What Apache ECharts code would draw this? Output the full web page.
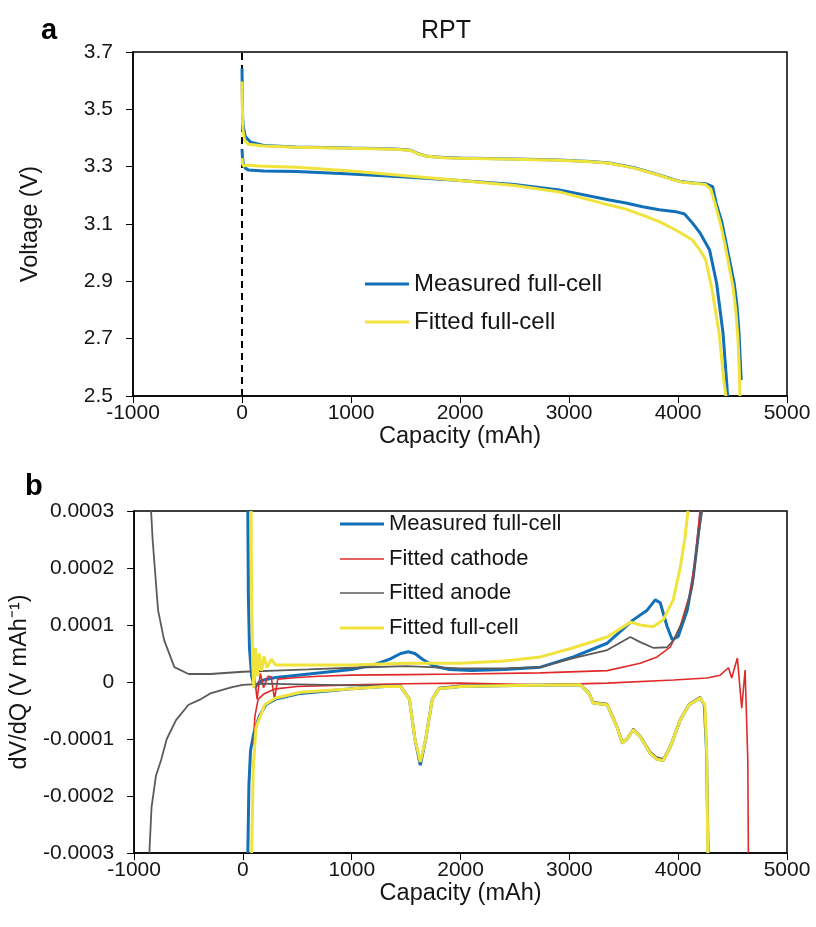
<!DOCTYPE html>
<html>
<head>
<meta charset="utf-8">
<script src="https://cdn.jsdelivr.net/npm/echarts@6/dist/echarts.min.js"></script>
<style>
html,body{margin:0;padding:0;background:#fff;}
#c{width:816px;height:927px;}
</style>
</head>
<body>
<div id="c"></div>
<script>
// ---------- Panel a : Voltage vs capacity ----------
const measuredUpperA = [[0,3.643],[3,3.55],[6,3.47],[12,3.44],[30,3.405],[80,3.385],[200,3.374],[500,3.369],[1000,3.365],[1400,3.362],[1550,3.357],[1620,3.345],[1700,3.336],[1850,3.332],[2000,3.33],[2500,3.327],[2900,3.323],[3200,3.318],[3370,3.313],[3600,3.296],[3828,3.271],[3950,3.256],[4038,3.247],[4150,3.243],[4258,3.24],[4318,3.23],[4350,3.173],[4400,3.11],[4441,3.034],[4480,2.96],[4515,2.894],[4540,2.82],[4560,2.72],[4572,2.62],[4580,2.556]];
const fittedUpperA = [[0,3.597],[4,3.5],[8,3.43],[25,3.39],[60,3.378],[200,3.372],[500,3.368],[1000,3.364],[1400,3.361],[1550,3.356],[1620,3.344],[1700,3.336],[1850,3.331],[2000,3.329],[2500,3.326],[2900,3.322],[3200,3.317],[3370,3.312],[3600,3.295],[3828,3.27],[3950,3.255],[4038,3.246],[4150,3.242],[4250,3.238],[4300,3.222],[4340,3.17],[4390,3.1],[4430,3.03],[4470,2.95],[4505,2.88],[4530,2.8],[4550,2.7],[4562,2.6],[4568,2.5]];
const measuredLowerA = [[0,3.36],[5,3.33],[12,3.31],[30,3.295],[60,3.288],[200,3.285],[500,3.283],[1000,3.274],[1500,3.264],[2000,3.252],[2500,3.238],[2912,3.219],[3370,3.184],[3522,3.173],[3675,3.16],[3828,3.15],[3980,3.143],[4060,3.135],[4133,3.103],[4200,3.07],[4290,3.009],[4354,2.894],[4413,2.72],[4447,2.545],[4455,2.5]];
const fittedLowerA = [[0,3.33],[5,3.31],[15,3.302],[40,3.306],[150,3.302],[500,3.298],[1000,3.285],[1500,3.268],[2000,3.252],[2500,3.234],[2912,3.212],[3370,3.166],[3522,3.152],[3675,3.131],[3828,3.108],[3980,3.079],[4133,3.044],[4200,3.01],[4254,2.975],[4313,2.87],[4377,2.72],[4423,2.545],[4440,2.5]];
const dashLineX = [0, 0];
const dashLineY = [2.5, 3.7];

// ---------- Panel b : dV/dQ vs capacity ----------
const measuredPosB = [[45,0.0003],[50,0.00015],[60,0.00006],[80,0.00001],[110,-0.00001],[150,0.0],[200,0.000004],[300,0.000008],[500,0.000012],[800,0.000018],[1000,0.000022],[1200,0.00003],[1350,0.00004],[1450,0.00005],[1520,0.000053],[1580,0.00005],[1650,0.00004],[1750,0.000028],[1900,0.000022],[2100,0.00002],[2400,0.000022],[2734,0.000026],[3037,0.000044],[3348,0.000068],[3587,0.000109],[3715,0.000126],[3789,0.000144],[3835,0.000139],[3899,0.000097],[3945,0.000074],[4000,0.00008],[4083,0.000126],[4138,0.000184],[4180,0.00025],[4210,0.0003]];
const measuredNegB = [[45,-0.0003],[55,-0.00018],[70,-0.00012],[100,-0.00009],[150,-0.00006],[210,-0.00004],[300,-0.00003],[530,-0.00002],[1000,-0.000012],[1300,-0.000008],[1450,-0.000008],[1530,-0.00003],[1580,-0.0001],[1630,-0.000146],[1680,-0.0001],[1740,-0.00003],[1800,-0.000012],[2000,-0.000008],[2500,-0.000006],[3100,-0.000005],[3180,-0.00002],[3220,-0.000037],[3348,-0.00004],[3440,-0.00008],[3486,-0.000107],[3530,-0.0001],[3587,-0.000084],[3651,-0.000096],[3743,-0.000125],[3800,-0.000135],[3862,-0.000138],[3927,-0.000114],[4018,-0.000067],[4100,-0.00004],[4202,-0.000028],[4240,-0.00004],[4260,-0.00012],[4275,-0.0003]];
const cathodePosB = [[100,0.00002],[130,-0.00003],[160,0.000015],[190,-0.00001],[230,0.00001],[260,0.000009],[290,-0.00003],[320,0.000005],[500,0.000008],[700,0.00001],[1000,0.000012],[1500,0.000013],[2000,0.000014],[2734,0.000016],[3348,0.00002],[3651,0.000033],[3806,0.000044],[3927,0.000061],[4018,0.000097],[4110,0.000156],[4156,0.000214],[4200,0.0003]];
const cathodeNegB = [[95,-0.00011],[110,-0.00006],[140,-0.00003],[200,-0.00002],[300,-0.000012],[500,-0.000008],[1000,-0.000005],[1500,-0.000003],[2000,-0.000002],[2734,-0.000005],[3348,-0.000002],[3958,0.0000035],[4266,0.000007],[4385,0.000012],[4462,0.000025],[4492,0.000007],[4544,0.000042],[4584,-0.000046],[4615,0.000021],[4640,-0.00014],[4645,-0.0003]];
const anodePosB = [[-844,0.0003],[-830,0.00025],[-810,0.0002],[-780,0.000126],[-725,0.000074],[-630,0.000026],[-500,0.000014],[-300,0.000014],[0,0.000018],[300,0.00002],[600,0.000022],[1000,0.000025],[1500,0.000028],[2000,0.000024],[2400,0.000024],[2734,0.000026],[3037,0.000042],[3348,0.000056],[3560,0.000079],[3651,0.00007],[3770,0.00006],[3899,0.000061],[3960,0.000074],[4046,0.000109],[4130,0.000167],[4180,0.00025],[4220,0.0003]];
const anodeNegB = [[-860,-0.0003],[-840,-0.00022],[-800,-0.000165],[-752,-0.000137],[-700,-0.0001],[-615,-0.000067],[-500,-0.00004],[-385,-0.00003],[-300,-0.00002],[-100,-0.0000088],[0,-0.000005],[200,-0.000003],[500,-0.000004],[1000,-0.000006],[1450,-0.000006],[1530,-0.00003],[1580,-0.0001],[1630,-0.000142],[1680,-0.0001],[1740,-0.00003],[1800,-0.00001],[2000,-0.000006],[2500,-0.000005],[3100,-0.000004],[3180,-0.000018],[3220,-0.000035],[3348,-0.000038],[3440,-0.000078],[3486,-0.000104],[3530,-0.0001],[3587,-0.000082],[3651,-0.000094],[3743,-0.000122],[3800,-0.000132],[3862,-0.000135],[3927,-0.000112],[4018,-0.000065],[4100,-0.000038],[4202,-0.000026],[4240,-0.00004],[4262,-0.00012],[4277,-0.0003]];
const fittedPosB = [[75,0.0003],[80,0.00015],[90,0.00003],[100,-0.00001],[115,0.00006],[130,0.00001],[150,0.00005],[170,0.00002],[195,0.000045],[220,0.000025],[260,0.00004],[300,0.00003],[500,0.00003],[1000,0.00003],[1500,0.000033],[2000,0.000033],[2400,0.000037],[2734,0.000044],[3037,0.00006],[3348,0.000079],[3560,0.000105],[3651,0.0001],[3770,0.000097],[3862,0.000109],[3954,0.000144],[4018,0.0002],[4060,0.00025],[4090,0.0003]];
const fittedNegB = [[80,-0.0003],[95,-0.00015],[120,-0.00008],[200,-0.00004],[300,-0.000028],[530,-0.000018],[1000,-0.000012],[1300,-0.000008],[1450,-0.000008],[1530,-0.00003],[1580,-0.0001],[1630,-0.00014],[1680,-0.0001],[1740,-0.00003],[1800,-0.000012],[2000,-0.000008],[2500,-0.000006],[3100,-0.000005],[3180,-0.00002],[3220,-0.000037],[3348,-0.00004],[3440,-0.00008],[3486,-0.000107],[3530,-0.0001],[3587,-0.000084],[3651,-0.000096],[3743,-0.000125],[3800,-0.000135],[3862,-0.000138],[3927,-0.000114],[4018,-0.000067],[4100,-0.00004],[4202,-0.000028],[4245,-0.00004],[4262,-0.00012],[4272,-0.0003]];

const seriesNames = ['Measured full-cell','Fitted cathode','Fitted anode','Fitted full-cell'];
const xTicks = {min:-1000, max:5000, interval:1000};
const yTicksA = {min:2.5, max:3.7, interval:0.2};
const yTicksB = {min:-0.0003, max:0.0003, interval:0.0001};

const BLUE='#1170b8', YELLOW='#f0e33c', RED='#e02a2a', GREY='#5a5a5a';
const FONT='Liberation Sans, Arial, sans-serif';
const TXT='#151515';

function xAxisCfg(idx){
  return {gridIndex:idx, type:'value', min:xTicks.min, max:xTicks.max, interval:xTicks.interval,
    name:'Capacity (mAh)', nameLocation:'middle', nameGap:25,
    nameTextStyle:{fontFamily:FONT, fontSize:23.5, color:TXT},
    axisLine:{onZero:false, lineStyle:{color:'#000', width:1.5}},
    axisTick:{show:true, inside:false, length:7, lineStyle:{color:'#000', width:1}},
    axisLabel:{fontFamily:FONT, fontSize:21, color:TXT, margin:7, formatter: v => String(v)},
    splitLine:{show:false}};
}
function yAxisCfg(idx, t, name, fmt){
  return {gridIndex:idx, type:'value', min:t.min, max:t.max, interval:t.interval,
    name:name, nameLocation:'middle', nameGap:90, nameRotate:90,
    nameTextStyle:{fontFamily:FONT, fontSize:23.5, color:TXT},
    axisLine:{onZero:false, lineStyle:{color:'#000', width:1.5}},
    axisTick:{show:true, inside:false, length:7, lineStyle:{color:'#000', width:1}},
    axisLabel:{fontFamily:FONT, fontSize:21, color:TXT, margin:20, formatter:fmt},
    splitLine:{show:false}};
}
function line(name, data, color, width, xi, yi, z){
  return {name:name, type:'line', data:data, xAxisIndex:xi, yAxisIndex:yi, symbol:'none',
    showSymbol:false, smooth:false, clip:true, z:z, silent:true,
    lineStyle:{color:color, width:width}, itemStyle:{color:color}};
}
function legendRow(name, color, thick, left, centerY, fontSize, lh){
  return {data:[{name:name, icon:'rect', itemStyle:{color:color}}], orient:'horizontal',
    left:left, top:centerY - lh/2, padding:0, itemWidth:44, itemHeight:thick, selectedMode:false,
    textStyle:{fontFamily:FONT, fontSize:fontSize, color:TXT, lineHeight:lh}};
}

const chart = echarts.init(document.getElementById('c'), null, {renderer:'canvas'});
chart.setOption({
  animation:false,
  backgroundColor:'#fff',
  title:[
    {text:'RPT', left:441, top:14, textAlign:'center', textStyle:{fontFamily:FONT, fontSize:25, fontWeight:'normal', color:TXT}},
    {text:'a', left:36, top:11, textStyle:{fontFamily:FONT, fontSize:29, fontWeight:'bold', color:'#000'}},
    {text:'b', left:20, top:467, textStyle:{fontFamily:FONT, fontSize:29, fontWeight:'bold', color:'#000'}}
  ],
  grid:[
    {left:133, top:52, width:654, height:344, show:true, borderColor:'#000', borderWidth:1.5, backgroundColor:'transparent'},
    {left:133, top:511, width:654, height:342, show:true, borderColor:'#000', borderWidth:1.5, backgroundColor:'transparent'}
  ],
  xAxis:[xAxisCfg(0), xAxisCfg(1)],
  yAxis:[
    yAxisCfg(0, yTicksA, 'Voltage (V)', v => v.toFixed(1)),
    yAxisCfg(1, yTicksB, 'dV/dQ (V mAh\u207B\u00B9)', v => Math.abs(v) < 1e-9 ? '0' : (Math.round(v*1e4)/1e4).toFixed(4))
  ],
  legend:[
    legendRow(seriesNames[0], BLUE, 3, 365, 284, 24, 28),
    legendRow(seriesNames[3], YELLOW, 3, 365, 322, 24, 28),
    legendRow(seriesNames[0], BLUE, 3, 340, 524, 22, 26),
    legendRow(seriesNames[1], RED, 1.5, 340, 559, 22, 26),
    legendRow(seriesNames[2], GREY, 1.5, 340, 593, 22, 26),
    legendRow(seriesNames[3], YELLOW, 3, 340, 628, 22, 26)
  ],
  series:[
    line('dash', dashLineX.map((x,i)=>[x, dashLineY[i]]), '#000', 2, 0, 0, 1),
    line(seriesNames[0], measuredUpperA, BLUE, 3, 0, 0, 2),
    line(seriesNames[0], measuredLowerA, BLUE, 3, 0, 0, 2),
    line(seriesNames[3], fittedUpperA, YELLOW, 3, 0, 0, 3),
    line(seriesNames[3], fittedLowerA, YELLOW, 3, 0, 0, 3),
    line(seriesNames[0], measuredPosB, BLUE, 3, 1, 1, 2),
    line(seriesNames[0], measuredNegB, BLUE, 3, 1, 1, 2),
    line(seriesNames[1], cathodePosB, RED, 1.6, 1, 1, 3),
    line(seriesNames[1], cathodeNegB, RED, 1.6, 1, 1, 3),
    line(seriesNames[2], anodePosB, GREY, 1.8, 1, 1, 4),
    line(seriesNames[2], anodeNegB, GREY, 1.8, 1, 1, 4),
    line(seriesNames[3], fittedPosB, YELLOW, 3, 1, 1, 5),
    line(seriesNames[3], fittedNegB, YELLOW, 3, 1, 1, 5)
  ]
});
// dashed style for the zero-capacity marker line
chart.setOption({series:[{lineStyle:{type:[7,5], color:'#000', width:2}}]});
</script>
</body>
</html>
